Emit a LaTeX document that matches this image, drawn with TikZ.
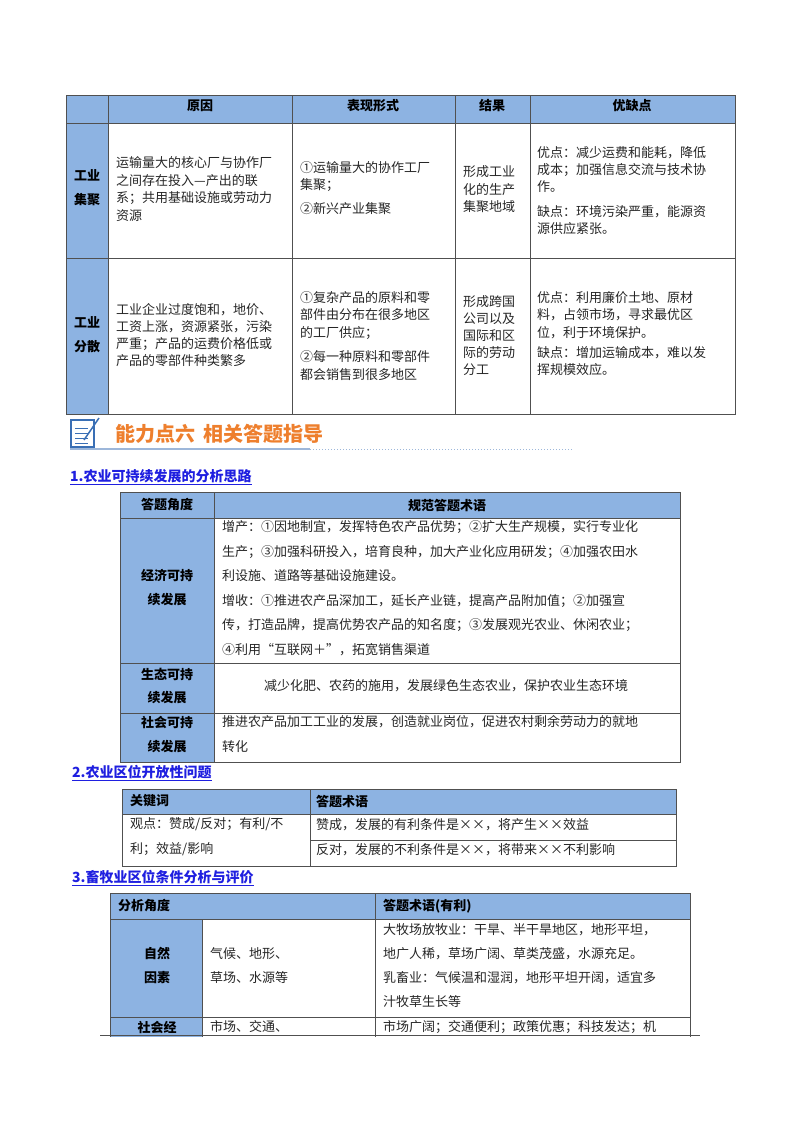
\documentclass[tikz,border=0pt]{standalone}
\usepackage{fontspec}
\setmainfont{Noto Sans CJK SC}
\definecolor{hdr}{HTML}{8DB3E2}
\definecolor{bord}{HTML}{505050}
\definecolor{orng}{HTML}{EE7F2D}
\definecolor{lnk}{HTML}{1F1FE0}
\definecolor{icon}{HTML}{3A6FB5}
\tikzset{
  t/.style={anchor=west,inner sep=0pt,font=\fontsize{13}{15}\selectfont,text=black!85},
  tc/.style={anchor=center,inner sep=0pt,font=\fontsize{13}{15}\selectfont,text=black!85},
  b/.style={anchor=center,inner sep=0pt,font=\fontsize{13}{15}\selectfont\bfseries},
  bl/.style={anchor=west,inner sep=0pt,font=\fontsize{13}{15}\selectfont\bfseries},
  grid/.style={draw=bord,line width=0.8pt},
  sec/.style={anchor=west,inner sep=0pt,font=\fontsize{14}{16}\selectfont\bfseries,text=lnk},
}
\newcommand{\secline}[3]{\node[sec] (#1) at #2 {#3};\draw[lnk,line width=0.8pt] (#1.south west)++(0,-1.5pt) -- ([yshift=-1.5pt]#1.south east);}
\begin{document}
\begin{tikzpicture}[x=1pt,y=-1pt]
\useasboundingbox (0,0) rectangle (800,1132);
\fill[white] (0,0) rectangle (800,1132);
% ---------- Table 1
\fill[hdr] (66,95) rectangle (735,123);
\fill[hdr] (66,95) rectangle (108,414);
\draw[grid] (66,95) rectangle (735,414);
\foreach \x in {108,292,455,530} \draw[grid] (\x,95) -- (\x,414);
\draw[grid] (66,123) -- (735,123);
\draw[grid] (66,258) -- (735,258);
\node[b] at (200,106) {原因};
\node[b] at (373,106) {表现形式};
\node[b] at (492,106) {结果};
\node[b] at (632,106) {优缺点};
\node[b] at (87,175) {工业};
\node[b] at (87,200) {集聚};
\node[b] at (87,322) {工业};
\node[b] at (87,347) {分散};
\node[t] at (116,163) {运输量大的核心厂与协作厂};
\node[t] at (116,181) {之间存在投入—产出的联};
\node[t] at (116,198) {系；共用基础设施或劳动力};
\node[t] at (116,216) {资源};
\node[t] at (300,168) {①运输量大的协作工厂};
\node[t] at (300,185) {集聚；};
\node[t] at (300,209) {②新兴产业集聚};
\node[t] at (463,172) {形成工业};
\node[t] at (463,190) {化的生产};
\node[t] at (463,207) {集聚地域};
\node[t] at (537,153) {优点：减少运费和能耗，降低};
\node[t] at (537,170) {成本；加强信息交流与技术协};
\node[t] at (537,187) {作。};
\node[t] at (537,212) {缺点：环境污染严重，能源资};
\node[t] at (537,229) {源供应紧张。};
\node[t] at (116,310) {工业企业过度饱和，地价、};
\node[t] at (116,327) {工资上涨，资源紧张，污染};
\node[t] at (116,344) {严重；产品的运费价格低或};
\node[t] at (116,361) {产品的零部件种类繁多};
\node[t] at (300,298) {①复杂产品的原料和零};
\node[t] at (300,315) {部件由分布在很多地区};
\node[t] at (300,333) {的工厂供应；};
\node[t] at (300,357) {②每一种原料和零部件};
\node[t] at (300,375) {都会销售到很多地区};
\node[t] at (463,302) {形成跨国};
\node[t] at (463,319) {公司以及};
\node[t] at (463,336) {国际和区};
\node[t] at (463,353) {际的劳动};
\node[t] at (463,370) {分工};
\node[t] at (537,298) {优点：利用廉价土地、原材};
\node[t] at (537,315) {料，占领市场，寻求最优区};
\node[t] at (537,333) {位，利于环境保护。};
\node[t] at (537,353) {缺点：增加运输成本，难以发};
\node[t] at (537,370) {挥规模效应。};
% ---------- heading
\draw[icon,line width=1.2pt,fill=white] (71,420) rectangle (94,447);
\foreach \y in {428,433,438,443} \draw[icon,line width=0.8pt] (75,\y) -- (88,\y);
\draw[icon,line width=1.5pt] (84,440) -- (99,418);
\draw[icon!50,line width=1.2pt] (70,449) -- (310,449);
\draw[icon!50,line width=1pt,dotted] (310,449) -- (572,449);
\node[anchor=west,inner sep=0pt,font=\fontsize{20}{22}\selectfont\bfseries,text=orng] (ttl) at (115,434) {能力点六\hspace{8pt}相关答题指导};
% ---------- Section 1
\secline{s1}{(70,476)}{1.农业可持续发展的分析思路}
\fill[hdr] (120,492) rectangle (680,518);
\fill[hdr] (120,492) rectangle (214,762);
\draw[grid] (120,492) rectangle (680,762);
\draw[grid] (214,492) -- (214,762);
\draw[grid] (120,518) -- (680,518);
\draw[grid] (120,663) -- (680,663);
\draw[grid] (120,713) -- (680,713);
\node[b] at (167,505) {答题角度};
\node[b] at (447,505) {规范答题术语};
\node[b] at (167,576) {经济可持};
\node[b] at (167,600) {续发展};
\node[b] at (167,674) {生态可持};
\node[b] at (167,698) {续发展};
\node[b] at (167,723) {社会可持};
\node[b] at (167,747) {续发展};
\node[t] at (222,527) {增产：①因地制宜，发挥特色农产品优势；②扩大生产规模，实行专业化};
\node[t] at (222,552) {生产；③加强科研投入，培育良种，加大产业化应用研发；④加强农田水};
\node[t] at (222,576) {利设施、道路等基础设施建设。};
\node[t] at (222,601) {增收：①推进农产品深加工，延长产业链，提高产品附加值；②加强宣};
\node[t] at (222,625) {传，打造品牌，提高优势农产品的知名度；③发展观光农业、休闲农业；};
\node[t] at (222,650) {④利用“互联网＋”，拓宽销售渠道};
\node[tc] at (446,686) {减少化肥、农药的施用，发展绿色生态农业，保护农业生态环境};
\node[t] at (222,722) {推进农产品加工工业的发展，创造就业岗位，促进农村剩余劳动力的就地};
\node[t] at (222,747) {转化};
% ---------- Section 2
\secline{s2}{(72,772)}{2.农业区位开放性问题}
\fill[hdr] (122,789) rectangle (676,814);
\draw[grid] (122,789) rectangle (676,866);
\draw[grid] (310,789) -- (310,866);
\draw[grid] (122,814) -- (676,814);
\draw[grid] (310,840) -- (676,840);
\node[bl] at (130,801) {关键词};
\node[bl] at (316,801) {答题术语};
\node[t] at (130,824) {观点：赞成/反对；有利/不};
\node[t] at (130,849) {利；效益/影响};
\node[t] at (316,825) {赞成，发展的有利条件是××，将产生××效益};
\node[t] at (316,850) {反对，发展的不利条件是××，将带来××不利影响};
% ---------- Section 3
\secline{s3}{(72,877)}{3.畜牧业区位条件分析与评价}
\begin{scope}
\clip (100,880) rectangle (700,1036);
\fill[hdr] (110,893) rectangle (690,919);
\fill[hdr] (110,893) rectangle (202,1050);
\draw[grid] (110,893) rectangle (690,1050);
\draw[grid] (202,919) -- (202,1050);
\draw[grid] (375,893) -- (375,1050);
\draw[grid] (110,919) -- (690,919);
\draw[grid] (110,1017) -- (690,1017);
\draw[grid] (100,1035.5) -- (700,1035.5);
\end{scope}
\node[bl] at (118,906) {分析角度};
\node[bl] at (383,906) {答题术语(有利)};
\node[b] at (157,954) {自然};
\node[b] at (157,978) {因素};
\node[t] at (210,954) {气候、地形、};
\node[t] at (210,978) {草场、水源等};
\node[t] at (383,930) {大牧场放牧业：干旱、半干旱地区，地形平坦，};
\node[t] at (383,954) {地广人稀，草场广阔、草类茂盛，水源充足。};
\node[t] at (383,978) {乳畜业：气候温和湿润，地形平坦开阔，适宜多};
\node[t] at (383,1002) {汁牧草生长等};
\node[b] at (157,1027) {社会经};
\node[t] at (210,1027) {市场、交通、};
\node[t] at (383,1027) {市场广阔；交通便利；政策优惠；科技发达；机};
\end{tikzpicture}
\end{document}
